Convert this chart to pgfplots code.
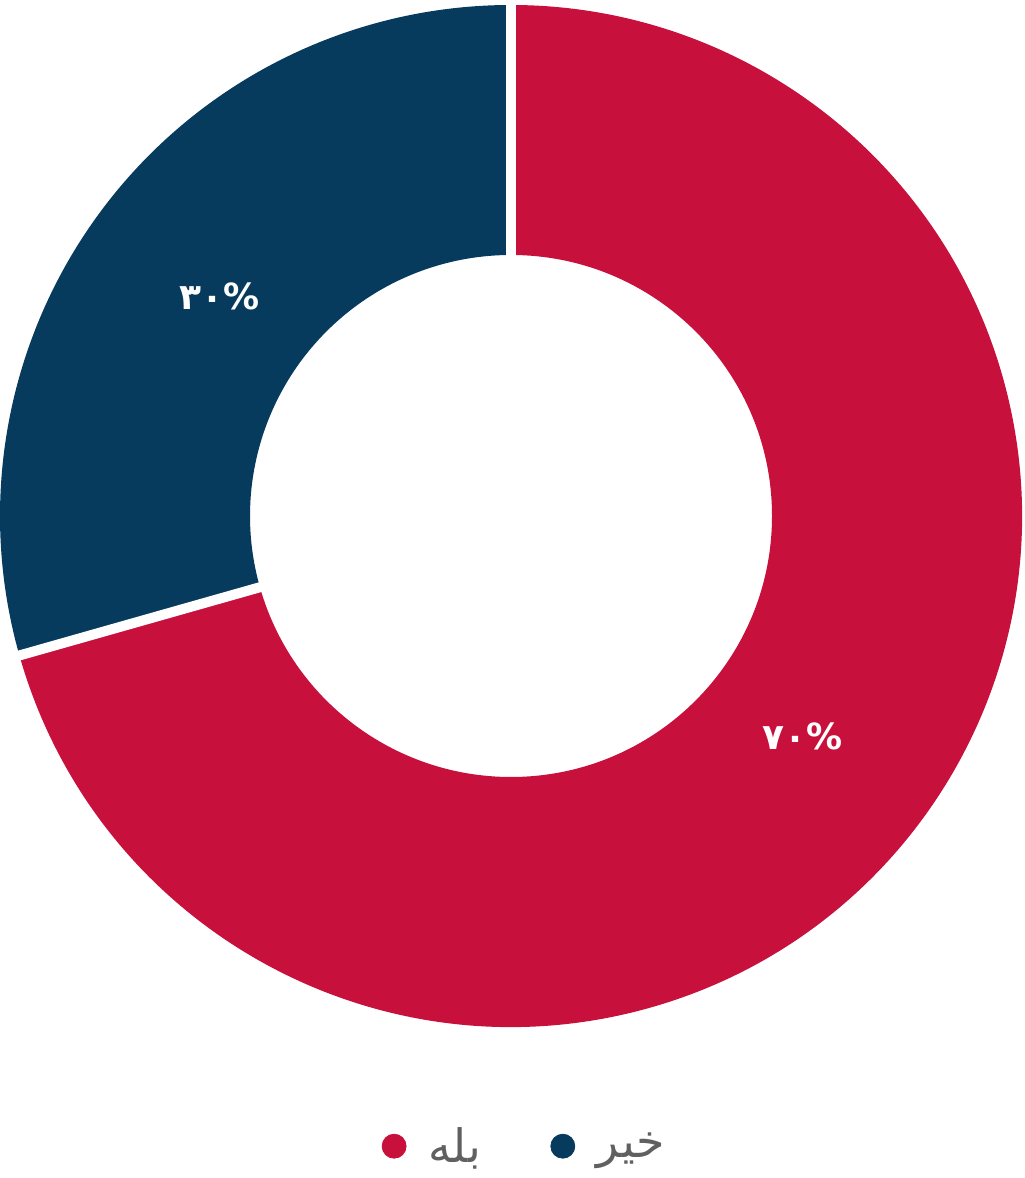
\documentclass[border=0pt]{standalone}
\usepackage{pgfplots}
\pgfplotsset{compat=1.18}
\usepackage{pgfplotstable}
\usepackage{fontspec}
\setmainfont{DejaVu Sans}
\newfontfamily\arabicfont[Script=Arabic]{DejaVu Sans}
\TeXXeTstate=1

\definecolor{yesred}{HTML}{C8103C}
\definecolor{noblue}{HTML}{073B5D}
\definecolor{legtext}{HTML}{606060}

% share of answers (percent)
\pgfplotstableread{
answer share
yes    70.6
no     29.4
}\answers

\begin{document}
\begin{tikzpicture}
\pgfplotstablegetelem{0}{share}\of\answers \let\yes\pgfplotsretval
\pgfplotstablegetelem{1}{share}\of\answers \let\no\pgfplotsretval
% geometry in pixel units (0.5pt each)
\def\cx{511}\def\cy{662}\def\Ro{511}\def\Ri{261}
\pgfmathsetmacro\aA{90}
\pgfmathsetmacro\aB{90+\no*3.6}
\pgfmathsetmacro\aC{450}
\pgfmathsetmacro\mB{(\aA+\aB)/2}
\pgfmathsetmacro\mR{(\aB+\aC)/2}
\begin{axis}[
    name=donut,
    x=0.5pt, y=0.5pt,
    xmin=0, xmax=1024, ymin=0, ymax=1178,
    hide axis, clip=false,
    legend columns=2,
    legend style={at={(0.513,0.027)}, anchor=center, draw=none, fill=none,
        font=\fontsize{23}{27}\selectfont, text=legtext,
        /tikz/every odd column/.append style={column sep=9pt},
        /tikz/every even column/.append style={column sep=33pt}},
]
\addlegendimage{only marks, mark=*, mark size=6pt, color=yesred}
\addlegendentry{\arabicfont\beginR بله\endR}
\addlegendimage{only marks, mark=*, mark size=6pt, color=noblue}
\addlegendentry{\arabicfont\beginR خیر\endR}

\fill[noblue] (axis cs:{\cx+\Ro*cos(\aA)},{\cy+\Ro*sin(\aA)})
    arc[start angle=\aA, end angle=\aB, radius=255.5pt]
    -- (axis cs:{\cx+\Ri*cos(\aB)},{\cy+\Ri*sin(\aB)})
    arc[start angle=\aB, end angle=\aA, radius=130.5pt] -- cycle;
\fill[yesred] (axis cs:{\cx+\Ro*cos(\aB)},{\cy+\Ro*sin(\aB)})
    arc[start angle=\aB, end angle=\aC, radius=255.5pt]
    -- (axis cs:{\cx+\Ri*cos(\aC)},{\cy+\Ri*sin(\aC)})
    arc[start angle=\aC, end angle=\aB, radius=130.5pt] -- cycle;
\draw[white, line width=5pt] (axis cs:{\cx+250*cos(\aA)},{\cy+250*sin(\aA)})
    -- (axis cs:{\cx+515*cos(\aA)},{\cy+515*sin(\aA)});
\draw[white, line width=5pt] (axis cs:{\cx+250*cos(\aB)},{\cy+250*sin(\aB)})
    -- (axis cs:{\cx+515*cos(\aB)},{\cy+515*sin(\aB)});

\node[white, font=\arabicfont\bfseries\fontsize{18}{21}\selectfont]
    at (axis cs:{\cx+365*cos(\mB)},{\cy+365*sin(\mB)}) {۳۰\%};
\node[white, font=\arabicfont\bfseries\fontsize{18}{21}\selectfont]
    at (axis cs:{\cx+365*cos(\mR)},{\cy+365*sin(\mR)}) {۷۰\%};
\end{axis}
\pgfresetboundingbox
\path[use as bounding box] (donut.south west) rectangle (donut.north east);
\end{tikzpicture}
\end{document}
